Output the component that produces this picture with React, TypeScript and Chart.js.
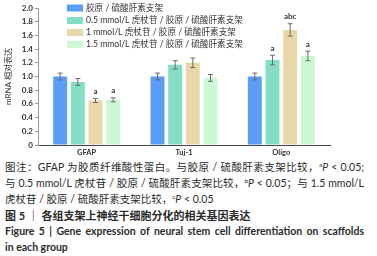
import React, { useEffect, useRef } from "react";
import { Chart, registerables } from "chart.js";

Chart.register(...registerables);

const categories = ["GFAP", "Tuj-1", "Oligo"];
const seriesNames = [
  "胶原 / 硫酸肝素支架",
  "0.5 mmol/L 虎杖苷 / 胶原 / 硫酸肝素支架",
  "1 mmol/L 虎杖苷 / 胶原 / 硫酸肝素支架",
  "1.5 mmol/L 虎杖苷 / 胶原 / 硫酸肝素支架",
];
const seriesColors = ["#5A9EF7", "#84DEC6", "#E8D8A9", "#CCF9D4"];

const controlValues = [1.0, 1.0, 1.0];
const lowValues = [0.92, 1.17, 1.24];
const midValues = [0.65, 1.2, 1.68];
const highValues = [0.66, 0.98, 1.3];

const controlErr = [0.05, 0.05, 0.05];
const lowErr = [0.05, 0.06, 0.07];
const midErr = [0.03, 0.07, 0.09];
const highErr = [0.03, 0.05, 0.07];

const controlSig = ["", "", ""];
const lowSig = ["", "", "a"];
const midSig = ["a", "", "abc"];
const highSig = ["a", "", "a"];

const yTicks = [0, 0.2, 0.4, 0.6, 0.8, 1.0, 1.2, 1.4, 1.6, 1.8, 2.0];

const FONT = "Lato, 'Noto Sans CJK SC', sans-serif";

const errorPlugin = {
  id: "errorBars",
  afterDatasetsDraw(chart: any) {
    const ctx = chart.ctx;
    const yScale = chart.scales.y;
    chart.data.datasets.forEach((ds: any, di: number) => {
      const meta = chart.getDatasetMeta(di);
      meta.data.forEach((bar: any, i: number) => {
        const v = ds.data[i];
        const e = ds.errors[i];
        const x = bar.x;
        const yTop = yScale.getPixelForValue(v + e);
        const yBot = yScale.getPixelForValue(v - e);
        ctx.save();
        ctx.strokeStyle = "#6b6b6b";
        ctx.lineWidth = 1;
        ctx.beginPath();
        ctx.moveTo(x, yTop);
        ctx.lineTo(x, yBot);
        ctx.moveTo(x - 2.5, yTop);
        ctx.lineTo(x + 2.5, yTop);
        ctx.moveTo(x - 2.5, yBot);
        ctx.lineTo(x + 2.5, yBot);
        ctx.stroke();
        const s = ds.sig[i];
        if (s) {
          ctx.fillStyle = "#333";
          ctx.font = "bold 8px " + FONT;
          ctx.textAlign = "center";
          ctx.textBaseline = "bottom";
          ctx.fillText(s, x, yTop - 3);
        }
        ctx.restore();
      });
    });
  },
};

const legendPlugin = {
  id: "customLegend",
  afterDraw(chart: any) {
    const ctx = chart.ctx;
    const x0 = 67;
    const rows = [8, 20.5, 32.5, 44.5];
    chart.data.datasets.forEach((ds: any, di: number) => {
      const cy = rows[di];
      ctx.save();
      ctx.fillStyle = ds.backgroundColor;
      ctx.fillRect(x0, cy - 3.5, 16, 7);
      ctx.fillStyle = "#333";
      ctx.font = "8.6px " + FONT;
      ctx.textAlign = "left";
      ctx.textBaseline = "middle";
      ctx.fillText(ds.label, x0 + 19, cy);
      ctx.restore();
    });
  },
};

function ChartBox() {
  const ref = useRef<HTMLCanvasElement>(null);
  useEffect(() => {
    const values = [controlValues, lowValues, midValues, highValues];
    const errs = [controlErr, lowErr, midErr, highErr];
    const sigs = [controlSig, lowSig, midSig, highSig];
    const chart = new Chart(ref.current!, {
      type: "bar",
      data: {
        labels: categories,
        datasets: seriesNames.map((name, i) => ({
          label: name,
          data: values[i],
          errors: errs[i],
          sig: sigs[i],
          backgroundColor: seriesColors[i],
          borderWidth: 0,
          categoryPercentage: 0.726,
          barPercentage: 0.79,
        })) as any,
      },
      options: {
        animation: false,
        responsive: false,
        maintainAspectRatio: false,
        events: [],
        layout: { padding: { left: 0, right: 47, top: 8, bottom: 0 } },
        plugins: { legend: { display: false }, tooltip: { enabled: false } },
        scales: {
          x: {
            grid: { display: false, drawTicks: false },
            border: { color: "#4a4a4a", width: 1 },
            ticks: {
              color: "#333",
              font: { family: FONT, size: 7.5, weight: "bold" },
              padding: 3,
            },
            afterFit(scale: any) {
              scale.height = 15;
            },
          },
          y: {
            min: 0,
            max: 2.0,
            afterBuildTicks(scale: any) {
              scale.ticks = yTicks.map((v) => ({ value: v }));
            },
            grid: { drawOnChartArea: false, tickLength: 3, color: "#9a9a9a" },
            border: { color: "#9a9a9a", width: 1 },
            ticks: {
              color: "#333",
              font: { family: FONT, size: 8, weight: "bold" },
              padding: 2,
              callback: (v: any) => (Number(v) === 0 ? "0" : Number(v).toFixed(1)),
            },
            title: {
              display: true,
              text: "mRNA 相对表达",
              color: "#333",
              font: { family: FONT, size: 8 },
              padding: { top: 4, bottom: 0 },
            },
            afterFit(scale: any) {
              scale.width = 38;
            },
          },
        },
      },
      plugins: [errorPlugin, legendPlugin],
    });
    return () => chart.destroy();
  }, []);
  return <canvas ref={ref} width={377} height={160} style={{ display: "block" }} />;
}

const sup: React.CSSProperties = { fontSize: "6.5px", verticalAlign: "top", lineHeight: "9px" };

export default function App() {
  useEffect(() => {
    document.body.style.margin = "0";
  }, []);
  const just: React.CSSProperties = { textAlign: "justify", textAlignLast: "justify" as any, whiteSpace: "nowrap" };
  const plain: React.CSSProperties = { whiteSpace: "nowrap" };
  return (
    <div style={{ width: 377, height: 256, position: "relative", background: "#fff", overflow: "hidden" }}>
      <ChartBox />
      <div
        style={{
          position: "absolute",
          left: 5,
          top: 160,
          width: 359,
          fontFamily: FONT,
          fontSize: "10.5px",
          lineHeight: "15.8px",
          color: "#2b2b2b",
        }}
      >
        <div style={just}>
          图注：GFAP 为胶质纤维酸性蛋白。与胶原 / 硫酸肝素支架比较，<span style={sup}>a</span>
          <i>P</i> &lt; 0.05;
        </div>
        <div style={just}>
          与 0.5 mmol/L 虎杖苷 / 胶原 / 硫酸肝素支架比较，<span style={sup}>b</span>
          <i>P</i> &lt; 0.05；与 1.5 mmol/L
        </div>
        <div style={plain}>
          虎杖苷 / 胶原 / 硫酸肝素支架比较，<span style={sup}>c</span>
          <i>P</i> &lt; 0.05
        </div>
        <div style={{ ...plain, fontWeight: "bold", fontSize: "11px", marginTop: 1 }}>
          图 5 ｜ 各组支架上神经干细胞分化的相关基因表达
        </div>
        <div style={{ ...just, fontWeight: "bold" }}>
          Figure 5 | Gene expression of neural stem cell differentiation on scaffolds
        </div>
        <div style={{ ...plain, fontWeight: "bold" }}>in each group</div>
      </div>
    </div>
  );
}
